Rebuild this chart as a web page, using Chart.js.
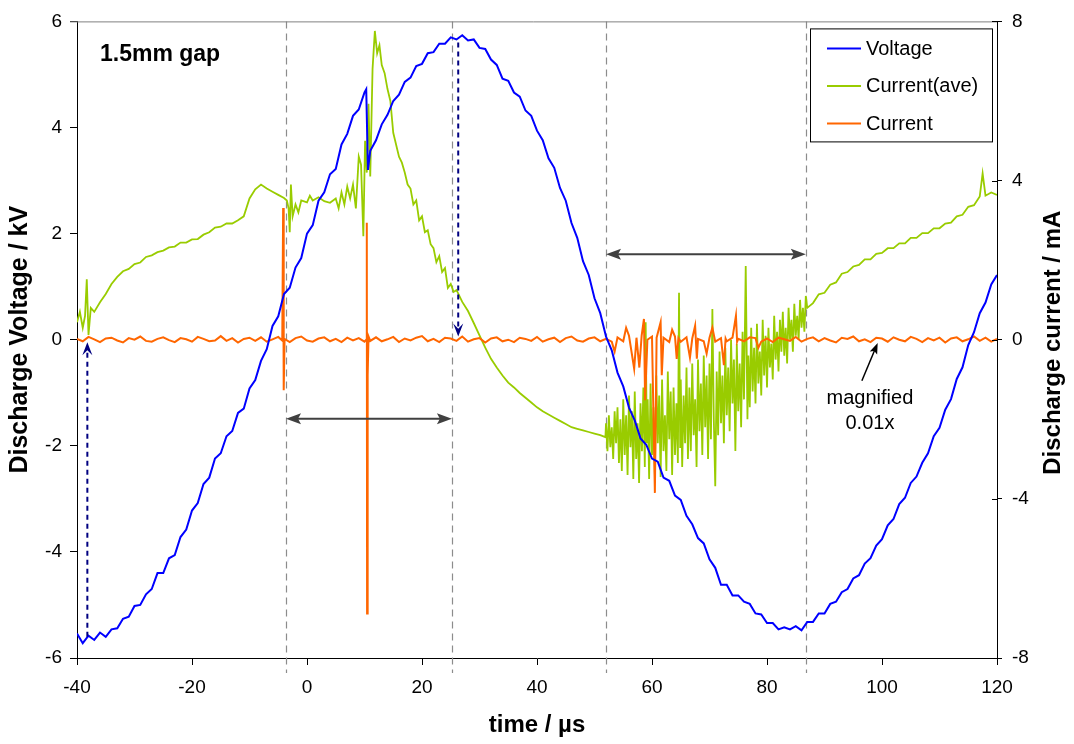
<!DOCTYPE html>
<html>
<head>
<meta charset="utf-8">
<title>Discharge voltage and current - 1.5mm gap</title>
<script src="https://cdn.jsdelivr.net/npm/chart.js@4.4.1/dist/chart.umd.min.js"></script>
<style>
  html, body { margin: 0; padding: 0; background: #fff; }
  #wrap { width: 1074px; height: 744px; }
</style>
</head>
<body>
<div id="wrap"><canvas id="dischargeChart" width="1074" height="744"></canvas></div>
<script>
// time in µs, voltage in kV (left axis), currents in mA (right axis)
const voltageTime = [
  -40, -39, -38, -37, -36, -35, -34, -33, -32, -31,
  -30, -29, -28, -27, -26, -25, -24, -23, -22, -21,
  -20, -19, -18, -17, -16, -15, -14, -13, -12, -11,
  -10, -9, -8, -7, -6, -5, -4, -3, -2, -1,
  0, 1, 2, 3, 4, 5, 6, 7, 8, 9,
  10, 10.3, 10.6, 11, 12, 13, 14, 15, 16, 17,
  18, 19, 20, 21, 22, 23, 24, 25, 26, 27,
  28, 29, 30, 31, 32, 33, 34, 35, 36, 37,
  38, 39, 40, 41, 42, 43, 44, 45, 46, 47,
  48, 49, 50, 51, 52, 53, 54, 55, 56, 57,
  58, 59, 60, 61, 62, 63, 64, 65, 66, 67,
  68, 69, 70, 71, 72, 73, 74, 75, 76, 77,
  78, 79, 80, 81, 82, 83, 84, 85, 86, 87,
  88, 89, 90, 91, 92, 93, 94, 95, 96, 97,
  98, 99, 100, 101, 102, 103, 104, 105, 106, 107,
  108, 109, 110, 111, 112, 113, 114, 115, 116, 117,
  118, 119, 120
];
const voltageKV = [
  -5.54, -5.72, -5.58, -5.66, -5.52, -5.60, -5.46, -5.44, -5.26, -5.22,
  -5.02, -5.00, -4.80, -4.70, -4.40, -4.40, -4.12, -4.06, -3.72, -3.58,
  -3.22, -3.08, -2.72, -2.60, -2.24, -2.14, -1.82, -1.72, -1.38, -1.30,
  -0.92, -0.76, -0.40, -0.18, 0.26, 0.44, 0.86, 0.98, 1.36, 1.54,
  2.00, 2.16, 2.62, 2.78, 3.12, 3.22, 3.68, 3.88, 4.22, 4.34,
  4.66, 4.72, 3.20, 3.56, 3.76, 4.06, 4.24, 4.50, 4.62, 4.86,
  4.94, 5.16, 5.20, 5.40, 5.42, 5.58, 5.58, 5.70, 5.66, 5.74,
  5.64, 5.66, 5.50, 5.48, 5.28, 5.18, 4.92, 4.88, 4.66, 4.58,
  4.32, 4.22, 3.94, 3.76, 3.42, 3.24, 2.86, 2.62, 2.20, 1.92,
  1.48, 1.22, 0.78, 0.50, 0.06, -0.20, -0.62, -0.88, -1.28, -1.52,
  -1.86, -1.98, -2.24, -2.30, -2.60, -2.66, -2.94, -3.02, -3.32, -3.48,
  -3.74, -3.84, -4.14, -4.30, -4.62, -4.62, -4.82, -4.82, -4.94, -4.98,
  -5.16, -5.18, -5.34, -5.34, -5.46, -5.42, -5.46, -5.40, -5.48, -5.32,
  -5.32, -5.16, -5.16, -4.98, -4.94, -4.76, -4.70, -4.50, -4.44, -4.22,
  -4.12, -3.88, -3.76, -3.50, -3.38, -3.10, -2.98, -2.70, -2.58, -2.32,
  -2.14, -1.82, -1.66, -1.32, -1.12, -0.74, -0.52, -0.10, 0.14, 0.50,
  0.70, 1.04, 1.22
];

const currentAveTime = [
  -40, -39.5, -39, -38.6, -38.3, -38, -37.6, -37, -36, -35,
  -34, -33, -32, -31, -30, -29, -28, -27, -26, -25,
  -24, -23, -22, -21, -20, -19, -18, -17, -16, -15,
  -14, -13, -12, -11, -10, -9, -8, -7, -6, -5,
  -4, -3.5, -3.2, -3, -2.8, -2.5, -2, -1.5, -1, 0,
  0.5, 1, 2, 3, 4, 5, 5.5, 6, 6.5, 7,
  7.5, 8, 8.5, 9, 9.4, 9.8, 10.1, 10.4, 10.7, 11,
  11.4, 11.8, 12.2, 12.6, 13, 13.5, 14, 14.5, 15, 15.5,
  16, 16.5, 17, 17.5, 18, 18.5, 19, 19.5, 20, 20.5,
  21, 21.5, 22, 22.5, 23, 23.5, 24, 24.5, 25, 25.5,
  26, 27, 28, 29, 30, 31, 32, 33, 34, 35,
  36, 37, 38, 39, 40, 41, 42, 43, 44, 45,
  46, 47, 48, 49, 50, 51, 51.9,
  52, 52.25, 52.5, 52.75, 53, 53.25, 53.5, 53.75,
  54, 54.25, 54.5, 54.75, 55, 55.25, 55.5, 55.75,
  56, 56.25, 56.5, 56.75, 57, 57.25, 57.5, 57.75,
  58, 58.25, 58.5, 58.75, 58.9, 59.1, 59.25, 59.5,
  59.75, 60, 60.25, 60.5, 60.75, 61, 61.25, 61.5,
  61.75, 62, 62.25, 62.5, 62.75, 63, 63.25, 63.5,
  63.75, 64, 64.25, 64.5, 64.7, 64.9, 65, 65.25,
  65.5, 65.75, 66, 66.25, 66.5, 66.75, 67, 67.25,
  67.5, 67.75, 68, 68.25, 68.5, 68.75, 69, 69.25,
  69.5, 69.75, 70, 70.25, 70.5, 70.75, 71, 71.25,
  71.5, 71.75, 72, 72.25, 72.5, 72.75, 73, 73.25,
  73.5, 73.75, 74, 74.25, 74.5, 74.75, 75, 75.25,
  75.5, 75.75, 76, 76.3, 76.6, 76.75, 77, 77.25,
  77.5, 77.75, 78, 78.25, 78.5, 78.75, 79, 79.25,
  79.5, 79.75, 80, 80.25, 80.5, 80.75, 81, 81.25,
  81.5, 81.75, 82, 82.25, 82.5, 82.75, 83, 83.25,
  83.5, 83.75, 84, 84.25, 84.5, 84.75, 85, 85.25,
  85.5, 85.75, 86, 86.25, 86.5, 86.75, 87,
  88, 89, 90, 91, 92, 93, 94, 95, 96, 97,
  98, 99, 100, 101, 102, 103, 104, 105, 106, 107,
  108, 109, 110, 111, 112, 113, 114, 115, 116, 117,
  117.5, 118, 119, 120
];
const currentAveMA = [
  0.44, 0.70, 0.30, 0.60, 1.52, 0.12, 0.80, 0.70, 0.94, 1.15,
  1.40, 1.58, 1.72, 1.78, 1.90, 1.94, 2.08, 2.12, 2.20, 2.24,
  2.32, 2.34, 2.44, 2.44, 2.52, 2.53, 2.64, 2.70, 2.82, 2.84,
  2.92, 2.92, 3.00, 3.10, 3.55, 3.78, 3.90, 3.80, 3.72, 3.64,
  3.56, 3.50, 3.30, 2.70, 3.90, 3.10, 3.40, 3.20, 3.50, 3.45,
  3.62, 3.50, 3.58, 3.48, 3.44, 3.55, 3.30, 3.70, 3.40, 3.85,
  3.55, 3.90, 3.30, 4.60, 4.40, 2.60, 5.00, 4.20, 5.93, 4.10,
  6.80, 7.76, 7.20, 7.40, 6.90, 6.70, 6.30, 6.00, 5.20, 4.90,
  4.60, 4.45, 4.20, 3.90, 3.80, 3.40, 3.50, 3.00, 3.10, 2.70,
  2.75, 2.40, 2.30, 1.95, 2.10, 1.70, 1.80, 1.30, 1.40, 1.20,
  1.25, 0.95, 0.72, 0.42, 0.11, -0.20, -0.48, -0.70, -0.90, -1.08,
  -1.20, -1.34, -1.46, -1.58, -1.70, -1.80, -1.88, -1.96, -2.04, -2.12,
  -2.20, -2.24, -2.28, -2.32, -2.36, -2.40, -2.45,
  -2.1, -2.8, -1.9, -2.7, -2.2, -3.0, -1.8, -2.6,
  -1.7, -3.1, -2.0, -3.3, -1.5, -2.9, -1.9, -3.4,
  -1.4, -2.7, -1.8, -3.5, -1.3, -3.0, -2.1, -3.6,
  -1.6, -2.8, -1.2, -3.2, 0.44, -2.6, -1.5, -3.5,
  -1.1, -2.9, -1.7, -3.4, -0.9, -2.6, -1.4, -3.45,
  -1.0, -2.8, -1.9, -3.3, -0.8, -2.5, -1.3, -3.4,
  -1.2, -2.9, -1.6, -3.1, 1.18, -2.7, -1.0, -3.2,
  -1.4, -2.6, -0.7, -3.0, -1.2, -2.8, -0.6, -2.4,
  -1.5, -3.2, -0.5, -2.3, -1.1, -2.9, -0.4, -2.2,
  -0.9, -3.0, -0.6, -2.5, 0.77, -2.0, -3.68, -0.8,
  -2.4, -0.3, -2.1, -0.9, -2.6, -0.2, -1.9, -0.7,
  -2.3, 0.0, -1.6, -0.5, -2.8, -0.1, -1.8, -0.6,
  -2.2, 0.2, -1.5, 1.85, -2.0, -0.4, -1.7, 0.3,
  -1.3, -0.2, -1.6, 0.4, -1.1, -0.3, -1.4, 0.5,
  -0.9, 0.1, -1.2, 0.3, -0.7, -0.1, -1.0, 0.6,
  -0.5, 0.2, -0.8, 0.5, -0.3, 0.7, -0.4, 0.3,
  -0.6, 0.8, 0.0, 0.5, -0.3, 0.9, 0.1, 0.6,
  0.0, 1.0, 0.3, 0.8, 0.2, 1.1, 0.8,
  0.92, 1.14, 1.18, 1.38, 1.44, 1.66, 1.70, 1.84, 1.88, 2.02,
  2.02, 2.16, 2.18, 2.30, 2.30, 2.42, 2.42, 2.56, 2.56, 2.68,
  2.68, 2.80, 2.80, 2.92, 2.94, 3.10, 3.14, 3.34, 3.38, 3.60,
  4.18, 3.62, 3.70, 3.64
];

const currentTime = [
  -40, -39, -38, -37, -36, -35, -34, -33, -32, -31,
  -30, -29, -28, -27, -26, -25, -24, -23, -22, -21,
  -20, -19, -18, -17, -16, -15, -14, -13, -12, -11,
  -10, -9, -8, -7, -6, -5, -4.3, -4.15, -4.05, -3.9,
  -3, -2, -1, 0, 1, 2, 3, 4, 5, 6,
  7, 8, 9, 10, 10.3, 10.4, 10.45, 10.55, 10.7, 11,
  12, 13, 14, 15, 16, 17, 18, 19, 20, 21,
  22, 23, 24, 25, 26, 27, 28, 29, 30, 31,
  32, 33, 34, 35, 36, 37, 38, 39, 40, 41,
  42, 43, 44, 45, 46, 47, 48, 49, 50, 51,
  52, 53, 53.5, 54, 55, 55.5, 56, 56.9, 57.3, 57.8,
  58.2, 58.6, 58.8, 59.2, 60, 60.5, 60.8, 61.5, 61.7, 62,
  63, 63.5, 64, 64.3, 64.6, 65, 66, 66.6, 67, 67.5,
  67.8, 68, 69, 69.5, 70, 70.5, 71, 72, 72.5, 72.8,
  73, 74, 74.6, 74.8, 75, 76, 77, 78, 78.5, 79,
  80, 81, 82, 83, 84, 85, 86, 87, 88, 89,
  90, 91, 92, 93, 94, 95, 96, 97, 98, 99,
  100, 101, 102, 103, 104, 105, 106, 107, 108, 109,
  110, 111, 112, 113, 114, 115, 116, 117, 118, 119, 120
];
const currentMA = [
  0.02, -0.04, 0.07, 0.01, -0.06, 0.03, 0.05, -0.02, -0.07, 0.04,
  0.00, 0.08, -0.03, -0.05, 0.02, 0.06, -0.01, -0.06, 0.04, 0.01,
  -0.05, 0.07, 0.02, -0.04, -0.02, 0.09, -0.03, 0.04, -0.07, 0.02,
  0.05, -0.03, 0.06, -0.05, 0.01, 0.07, -0.02, 3.31, -1.27, 0.02,
  -0.06, 0.04, 0.08, -0.02, -0.05, 0.03, 0.06, -0.04, 0.02, -0.06,
  0.05, -0.02, 0.04, -0.05, 0.00, 2.94, -6.88, -0.90, 0.08, -0.03,
  0.06, -0.04, 0.01, 0.07, -0.06, 0.03, -0.02, 0.05, 0.09, -0.04,
  0.02, -0.06, 0.05, 0.03, -0.03, 0.08, -0.05, 0.01, 0.04, -0.07,
  0.03, 0.06, -0.04, 0.00, -0.06, 0.05, 0.02, -0.03, 0.07, -0.05,
  0.01, 0.05, -0.06, 0.04, 0.08, -0.02, -0.05, 0.03, 0.06, -0.04,
  0.02, -0.05, -0.30, 0.06, -0.04, 0.30, 0.10, -0.73, 0.05, -0.70,
  0.10, 0.52, -1.52, 0.00, 0.08, -3.85, 0.05, 0.44, -0.89, 0.05,
  -0.06, 0.25, 0.08, -0.48, 0.04, -0.05, 0.06, -0.45, 0.03, 0.35,
  -0.48, 0.02, -0.04, -0.35, 0.05, 0.30, -0.05, 0.04, -0.64, 0.03,
  -0.04, 0.05, 0.60, -0.05, 0.02, -0.04, 0.06, 0.04, -0.20, -0.05,
  0.03, -0.06, 0.05, 0.01, -0.03, 0.07, -0.05, 0.02, 0.06, -0.04,
  0.04, -0.02, -0.07, 0.05, 0.02, 0.08, -0.04, 0.01, -0.06, 0.05,
  0.03, -0.05, 0.06, 0.00, -0.04, 0.07, 0.02, -0.06, 0.04, -0.02,
  0.05, -0.07, 0.03, 0.06, -0.04, 0.01, 0.08, -0.03, 0.05, -0.05, 0.02
];

const timeTicks = [-40, -20, 0, 20, 40, 60, 80, 100, 120];
const voltageTicks = [-6, -4, -2, 0, 2, 4, 6];
const currentTicks = [-8, -4, 0, 4, 8];

// annotation positions (data units)
const phaseTimes = [-3.65, 25.2, 52.0, 86.75];
const spanArrows = [
  { from: -3.65, to: 25.2, kV: -1.49 },
  { from: 52.0, to: 86.75, kV: 1.61 },
];
const markerArrows = [
  { t: -38.2, fromKV: -5.6, toKV: -0.05 },
  { t: 26.3, fromKV: 5.6, toKV: 0.06 },
];

const FONT = "'Liberation Sans', Arial, Helvetica, sans-serif";
Chart.defaults.font.family = FONT;
Chart.defaults.color = "#000";

function toPoints(times, values) {
  return times.map((t, i) => ({ x: t, y: values[i] }));
}

function arrowHead(ctx, x1, y1, x2, y2, len, half, notch) {
  const a = Math.atan2(y2 - y1, x2 - x1);
  const c = Math.cos(a), s = Math.sin(a);
  ctx.beginPath();
  ctx.moveTo(x2, y2);
  ctx.lineTo(x2 - len * c + half * s, y2 - len * s - half * c);
  ctx.lineTo(x2 - notch * len * c, y2 - notch * len * s);
  ctx.lineTo(x2 - len * c - half * s, y2 - len * s + half * c);
  ctx.closePath();
  ctx.fill();
}

const dischargeMarks = {
  id: "dischargeMarks",
  beforeDatasetsDraw(chart) {
    const { ctx, chartArea, scales } = chart;
    ctx.save();
    ctx.strokeStyle = "#8c8c8c";
    ctx.lineWidth = 1.2;
    ctx.setLineDash([7, 5]);
    phaseTimes.forEach((t) => {
      const px = Math.round(scales.x.getPixelForValue(t)) + 0.5;
      ctx.beginPath();
      ctx.moveTo(px, chartArea.top);
      ctx.lineTo(px, chartArea.bottom + 15);
      ctx.stroke();
    });
    ctx.restore();
  },
  afterDatasetsDraw(chart) {
    const { ctx, chartArea, scales } = chart;
    const x = scales.x, y = scales.y, y1 = scales.y1;
    ctx.save();

    // double headed span arrows
    ctx.strokeStyle = "#404040";
    ctx.fillStyle = "#404040";
    ctx.lineWidth = 2;
    spanArrows.forEach((a) => {
      const xa = x.getPixelForValue(a.from), xb = x.getPixelForValue(a.to);
      const py = y.getPixelForValue(a.kV);
      ctx.beginPath();
      ctx.moveTo(xa + 10, py);
      ctx.lineTo(xb - 10, py);
      ctx.stroke();
      arrowHead(ctx, xb, py, xa, py, 15, 5.5, 0.8);
      arrowHead(ctx, xa, py, xb, py, 15, 5.5, 0.8);
    });

    // navy dashed marker arrows
    ctx.strokeStyle = "#000080";
    ctx.fillStyle = "#000080";
    ctx.lineWidth = 2;
    markerArrows.forEach((a) => {
      const px = x.getPixelForValue(a.t);
      const ya = y.getPixelForValue(a.fromKV), yb = y.getPixelForValue(a.toKV);
      const dir = yb > ya ? 1 : -1;
      ctx.setLineDash([5, 4]);
      ctx.beginPath();
      ctx.moveTo(px, ya);
      ctx.lineTo(px, yb - dir * 9);
      ctx.stroke();
      ctx.setLineDash([]);
      arrowHead(ctx, px, ya, px, yb, 13, 5, 0.6);
    });

    // "magnified 0.01x" note
    const tx = x.getPixelForValue(96.5), ty = y1.getPixelForValue(-1.03);
    const hx = x.getPixelForValue(99.25), hy = y1.getPixelForValue(-0.08);
    ctx.strokeStyle = "#000";
    ctx.fillStyle = "#000";
    ctx.lineWidth = 1.5;
    ctx.beginPath();
    ctx.moveTo(tx, ty);
    ctx.lineTo(hx - (hx - tx) * 0.2, hy - (hy - ty) * 0.2);
    ctx.stroke();
    arrowHead(ctx, tx, ty, hx, hy, 11, 4, 0.8);
    ctx.font = "20px " + FONT;
    ctx.textAlign = "center";
    ctx.textBaseline = "alphabetic";
    const nx = x.getPixelForValue(97.9), ny = y1.getPixelForValue(-1.62);
    ctx.fillText("magnified", nx, ny);
    ctx.fillText("0.01x", nx, ny + 25);

    // gap label
    ctx.textAlign = "left";
    ctx.font = "bold 23px " + FONT;
    ctx.fillText("1.5mm gap", chartArea.left + 23, chartArea.top + 40);
    ctx.restore();
  },
  afterDraw(chart) {
    const { ctx, chartArea, scales } = chart;
    ctx.save();
    // plot frame top
    ctx.strokeStyle = "#808080";
    ctx.lineWidth = 1;
    ctx.beginPath();
    ctx.moveTo(chartArea.left - 7, chartArea.top + 0.5);
    ctx.lineTo(chartArea.right, chartArea.top + 0.5);
    ctx.stroke();
    // right axis ticks cross the axis line
    ctx.strokeStyle = "#000";
    currentTicks.forEach((v) => {
      const py = Math.round(scales.y1.getPixelForValue(v)) + 0.5;
      ctx.beginPath();
      ctx.moveTo(chartArea.right - 5, py);
      ctx.lineTo(chartArea.right, py);
      ctx.stroke();
    });

    // right axis title, reading upwards
    ctx.font = "bold 24px " + FONT;
    ctx.fillStyle = "#000";
    ctx.textAlign = "center";
    ctx.textBaseline = "middle";
    ctx.translate(chart.width - 21, (chartArea.top + chartArea.bottom) / 2 + 3);
    ctx.rotate(-Math.PI / 2);
    ctx.fillText("Discharge current / mA", 0, 0);
    ctx.setTransform(1, 0, 0, 1, 0, 0);

    // legend box
    const bx = chartArea.right - 187, by = chartArea.top + 7, bw = 182, bh = 113;
    ctx.fillStyle = "#fff";
    ctx.fillRect(bx, by, bw, bh);
    ctx.strokeStyle = "#000";
    ctx.lineWidth = 1;
    ctx.strokeRect(bx + 0.5, by + 0.5, bw, bh);
    ctx.font = "20px " + FONT;
    ctx.textAlign = "left";
    ctx.textBaseline = "middle";
    chart.data.datasets.forEach((ds, i) => {
      const ly = by + 20 + i * 37.5;
      ctx.strokeStyle = ds.borderColor;
      ctx.lineWidth = 2;
      ctx.beginPath();
      ctx.moveTo(bx + 17, ly);
      ctx.lineTo(bx + 51, ly);
      ctx.stroke();
      ctx.fillStyle = "#000";
      ctx.fillText(ds.label, bx + 56, ly + 1);
    });
    ctx.restore();
  },
};

function axisBase(extra) {
  return Object.assign({
    grid: { drawOnChartArea: false, color: "#000", tickLength: 7 },
    border: { display: true, color: "#000", width: 1 },
  }, extra);
}

new Chart(document.getElementById("dischargeChart"), {
  type: "line",
  data: {
    datasets: [
      {
        label: "Voltage",
        data: toPoints(voltageTime, voltageKV),
        yAxisID: "y",
        borderColor: "#0000ff",
        borderWidth: 2,
        order: 0,
      },
      {
        label: "Current(ave)",
        data: toPoints(currentAveTime, currentAveMA),
        yAxisID: "y1",
        borderColor: "#99cc00",
        borderWidth: 1.8,
        order: 2,
      },
      {
        label: "Current",
        data: toPoints(currentTime, currentMA),
        yAxisID: "y1",
        borderColor: "#ff6600",
        borderWidth: 2,
        order: 1,
      },
    ],
  },
  options: {
    responsive: false,
    animation: false,
    events: [],
    elements: { point: { radius: 0 }, line: { tension: 0 } },
    layout: { padding: { top: 16, left: 0, right: 0, bottom: 0 } },
    plugins: { legend: { display: false }, tooltip: { enabled: false } },
    scales: {
      x: axisBase({
        type: "linear",
        min: -40,
        max: 120,
        afterBuildTicks: (s) => { s.ticks = timeTicks.map((v) => ({ value: v })); },
        ticks: { font: { size: 19 }, padding: 11, maxRotation: 0 },
        title: { display: true, text: "time / µs", font: { size: 24, weight: "bold" }, padding: { top: 0, bottom: 4 } },
        afterFit: (s) => { s.height = 86; },
      }),
      y: axisBase({
        type: "linear",
        position: "left",
        min: -6,
        max: 6,
        afterBuildTicks: (s) => { s.ticks = voltageTicks.map((v) => ({ value: v })); },
        ticks: { font: { size: 19 }, padding: 8 },
        title: { display: true, text: "Discharge Voltage / kV", font: { size: 25, weight: "bold" }, padding: { top: 5, bottom: 0 } },
        afterFit: (s) => { s.width = 77; },
      }),
      y1: axisBase({
        type: "linear",
        position: "right",
        min: -8,
        max: 8,
        afterBuildTicks: (s) => { s.ticks = currentTicks.map((v) => ({ value: v })); },
        grid: { drawOnChartArea: false, color: "#000", tickLength: 5 },
        ticks: { font: { size: 19 }, padding: 10 },
        afterFit: (s) => { s.width = 77; },
      }),
    },
  },
  plugins: [dischargeMarks],
});
</script>
</body>
</html>
